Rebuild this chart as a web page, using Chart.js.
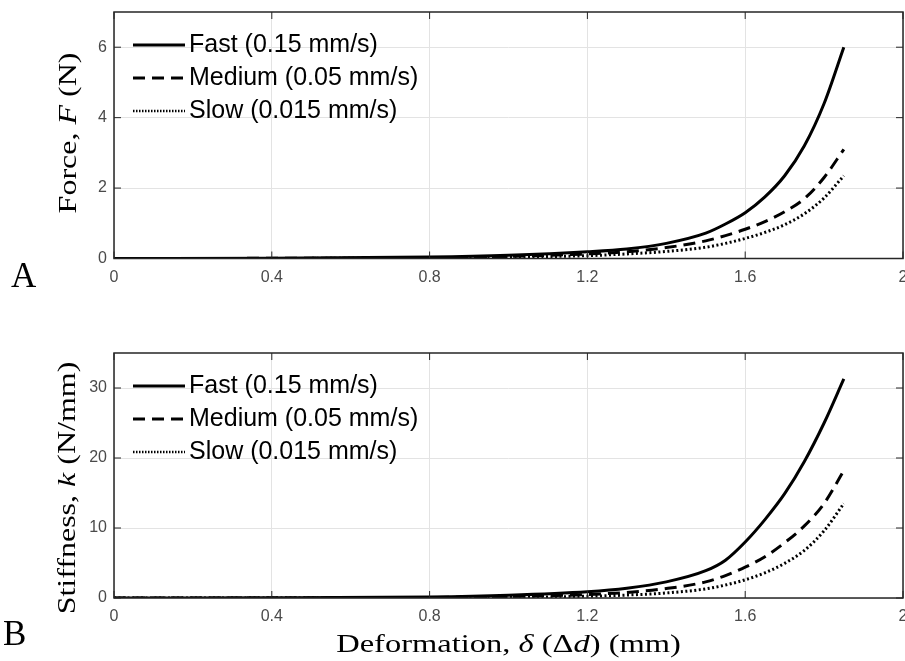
<!DOCTYPE html>
<html>
<head>
<meta charset="utf-8">
<script src="https://cdn.jsdelivr.net/npm/chart.js@4.4.1/dist/chart.umd.min.js"></script>
<style>
    html, body { margin: 0; padding: 0; background: #fff; overflow: hidden; width: 905px; height: 661px; }
    canvas { position: absolute; left: 0; }
    #forceChart { top: 0; }
    #stiffnessChart { top: 330px; }
</style>
</head>
<body>
<canvas id="forceChart" width="930" height="300"></canvas>
<canvas id="stiffnessChart" width="930" height="331"></canvas>
<script>
// deformation (mm), shared by every curve
const deformation = [0, 0.4, 0.8, 1.0, 1.2, 1.3, 1.4, 1.5, 1.55, 1.6, 1.65, 1.7, 1.75, 1.8, 1.85];

// Panel A - force (N)
const forceFast   = [0, 0.01, 0.04, 0.09, 0.19, 0.27, 0.43, 0.72, 0.98, 1.3, 1.75, 2.35, 3.2, 4.4, 6.0];
const forceMedium = [0, 0.005, 0.02, 0.06, 0.13, 0.19, 0.31, 0.5, 0.65, 0.83, 1.05, 1.33, 1.7, 2.3, 3.1];
const forceSlow   = [0, 0.003, 0.01, 0.04, 0.08, 0.13, 0.2, 0.32, 0.43, 0.57, 0.74, 0.96, 1.27, 1.72, 2.35];

// Panel B - stiffness (N/mm)
const stiffnessFast   = [0, 0.02, 0.15, 0.4, 0.9, 1.4, 2.3, 3.9, 5.4, 8.0, 11.2, 14.9, 19.5, 25.0, 31.3];
const stiffnessMedium = [0, 0.01, 0.07, 0.2, 0.5, 0.8, 1.35, 2.3, 3.2, 4.4, 5.9, 7.9, 10.3, 13.5, 18.2];
const stiffnessSlow   = [0, 0.005, 0.03, 0.1, 0.25, 0.42, 0.72, 1.3, 1.85, 2.6, 3.6, 4.95, 6.8, 9.6, 13.5];

const seriesLabels = ['Fast (0.15 mm/s)', 'Medium (0.05 mm/s)', 'Slow (0.015 mm/s)'];
const xTickValues = [0, 0.4, 0.8, 1.2, 1.6, 2];
const xTickLabels = ['0', '0.4', '0.8', '1.2', '1.6', '2'];
const forceTickValues = [0, 2, 4, 6];
const stiffnessTickValues = [0, 10, 20, 30];

const serifFont = '"Liberation Serif", "Times New Roman", serif';
const sansFont = '"Liberation Sans", Arial, sans-serif';
const lineDashes = [[], [12, 7], [2, 2.5]];
const gridColor = '#e3e3e3';
const frameColor = '#262626';
const tickColor = '#4a4a4a';

// draw a label where some pieces are italic (math symbols)
function drawRichText(ctx, parts, size, x, y, angle, stretch) {
    ctx.save();
    ctx.translate(x, y);
    ctx.rotate(angle);
    ctx.scale(stretch, 1);
    const fonts = parts.map(p => (p.italic ? 'italic ' : '') + size + 'px ' + serifFont);
    let total = 0;
    const widths = parts.map((p, i) => {
        ctx.font = fonts[i];
        const w = ctx.measureText(p.text).width;
        total += w;
        return w;
    });
    let cx = -total / 2;
    ctx.fillStyle = '#000';
    ctx.textAlign = 'left';
    ctx.textBaseline = 'alphabetic';
    parts.forEach((p, i) => {
        ctx.font = fonts[i];
        ctx.fillText(p.text, cx, 0);
        cx += widths[i];
    });
    ctx.restore();
}

// legend inside the plot, top-left, MATLAB style
const insideLegend = {
    id: 'insideLegend',
    afterDatasetsDraw(chart) {
        const { ctx, chartArea } = chart;
        ctx.save();
        chart.data.datasets.forEach((ds, i) => {
            const y = chartArea.top + 33 * (i + 1);
            ctx.beginPath();
            ctx.setLineDash(i === 2 ? [1.5, 1.5] : ds.borderDash);
            ctx.lineWidth = i === 2 ? 2.5 : ds.borderWidth;
            ctx.strokeStyle = ds.borderColor;
            ctx.moveTo(chartArea.left + 19, y);
            ctx.lineTo(chartArea.left + 71, y);
            ctx.stroke();
            ctx.setLineDash([]);
            ctx.fillStyle = '#000';
            ctx.font = '25px ' + sansFont;
            ctx.textBaseline = 'middle';
            ctx.textAlign = 'left';
            ctx.fillText(ds.label, chartArea.left + 75, y);
        });
        ctx.restore();
    }
};

// box frame with ticks pointing inward on all four sides
const boxFrame = {
    id: 'boxFrame',
    afterDatasetsDraw(chart) {
        const { ctx, chartArea } = chart;
        const xs = chart.scales.x, ys = chart.scales.y;
        const len = 7;
        ctx.save();
        ctx.strokeStyle = frameColor;
        ctx.lineWidth = 1;
        ctx.beginPath();
        xs.ticks.forEach(t => {
            const px = xs.getPixelForValue(t.value);
            ctx.moveTo(px, chartArea.bottom);
            ctx.lineTo(px, chartArea.bottom - len);
            ctx.moveTo(px, chartArea.top);
            ctx.lineTo(px, chartArea.top + len);
        });
        ys.ticks.forEach(t => {
            const py = ys.getPixelForValue(t.value);
            ctx.moveTo(chartArea.left, py);
            ctx.lineTo(chartArea.left + len, py);
            ctx.moveTo(chartArea.right, py);
            ctx.lineTo(chartArea.right - len, py);
        });
        ctx.stroke();
        ctx.lineWidth = 1.5;
        ctx.strokeRect(chartArea.left, chartArea.top, chartArea.right - chartArea.left, chartArea.bottom - chartArea.top);
        ctx.restore();
    }
};

// axis titles and panel letters
const panelText = {
    id: 'panelText',
    afterDraw(chart, args, opts) {
        const ctx = chart.ctx;
        drawRichText(ctx, opts.yTitle, 25, opts.yTitleX, opts.yTitleY, -Math.PI / 2, 1.28);
        if (opts.xTitle) {
            drawRichText(ctx, opts.xTitle, 25, (chart.chartArea.left + chart.chartArea.right) / 2, opts.xTitleY, 0, 1.3);
        }
        ctx.save();
        ctx.fillStyle = '#000';
        ctx.font = '35px ' + serifFont;
        ctx.textAlign = 'left';
        ctx.textBaseline = 'alphabetic';
        ctx.fillText(opts.letter, opts.letterX, opts.letterY);
        ctx.restore();
    }
};

function makeDataset(label, values, dash) {
    return {
        label: label,
        data: values.map((v, i) => ({ x: deformation[i], y: v })),
        borderColor: '#000',
        borderWidth: 3,
        borderDash: dash,
        pointRadius: 0,
        fill: false,
        cubicInterpolationMode: 'monotone'
    };
}

function renderPanel(canvasId, series, yMax, yTicks, xAxisHeight, topPad, text) {
    const ctx = document.getElementById(canvasId).getContext('2d');
    return new Chart(ctx, {
        type: 'line',
        data: {
            datasets: series.map((values, i) => makeDataset(seriesLabels[i], values, lineDashes[i]))
        },
        options: {
            responsive: false,
            animation: false,
            layout: { padding: { top: topPad, right: 27, left: 0, bottom: 0 } },
            scales: {
                x: {
                    type: 'linear',
                    min: 0,
                    max: 2,
                    afterBuildTicks: s => { s.ticks = xTickValues.map(v => ({ value: v })); },
                    afterFit: s => { s.height = xAxisHeight; s.paddingLeft = 0; s.paddingRight = 0; },
                    grid: { color: gridColor, drawTicks: false, lineWidth: 1 },
                    border: { display: false },
                    ticks: {
                        callback: (v, i) => xTickLabels[i],
                        color: tickColor,
                        font: { family: sansFont, size: 16 },
                        padding: 9,
                        maxRotation: 0,
                        autoSkip: false
                    }
                },
                y: {
                    min: 0,
                    max: yMax,
                    afterBuildTicks: s => { s.ticks = yTicks.map(v => ({ value: v })); },
                    afterFit: s => { s.width = 114; s.paddingTop = 0; s.paddingBottom = 0; },
                    grid: { color: gridColor, drawTicks: false, lineWidth: 1 },
                    border: { display: false },
                    ticks: {
                        callback: v => String(v),
                        color: tickColor,
                        font: { family: sansFont, size: 16 },
                        padding: 7,
                        autoSkip: false
                    }
                }
            },
            plugins: {
                legend: { display: false },
                tooltip: { enabled: false },
                panelText: text
            }
        },
        plugins: [insideLegend, boxFrame, panelText]
    });
}

renderPanel('forceChart', [forceFast, forceMedium, forceSlow], 7, forceTickValues, 41.5, 12, {
    yTitle: [{ text: 'Force, ' }, { text: 'F', italic: true }, { text: ' (N)' }],
    yTitleX: 76,
    yTitleY: 133,
    letter: 'A',
    letterX: 11,
    letterY: 287
});

renderPanel('stiffnessChart', [stiffnessFast, stiffnessMedium, stiffnessSlow], 35, stiffnessTickValues, 63, 23, {
    yTitle: [{ text: 'Stiffness, ' }, { text: 'k', italic: true }, { text: ' (N/mm)' }],
    yTitleX: 75,
    yTitleY: 158,
    xTitle: [{ text: 'Deformation, ' }, { text: 'δ', italic: true }, { text: ' (Δ' }, { text: 'd', italic: true }, { text: ') (mm)' }],
    xTitleY: 322,
    letter: 'B',
    letterX: 3,
    letterY: 315
});
</script>
</body>
</html>
